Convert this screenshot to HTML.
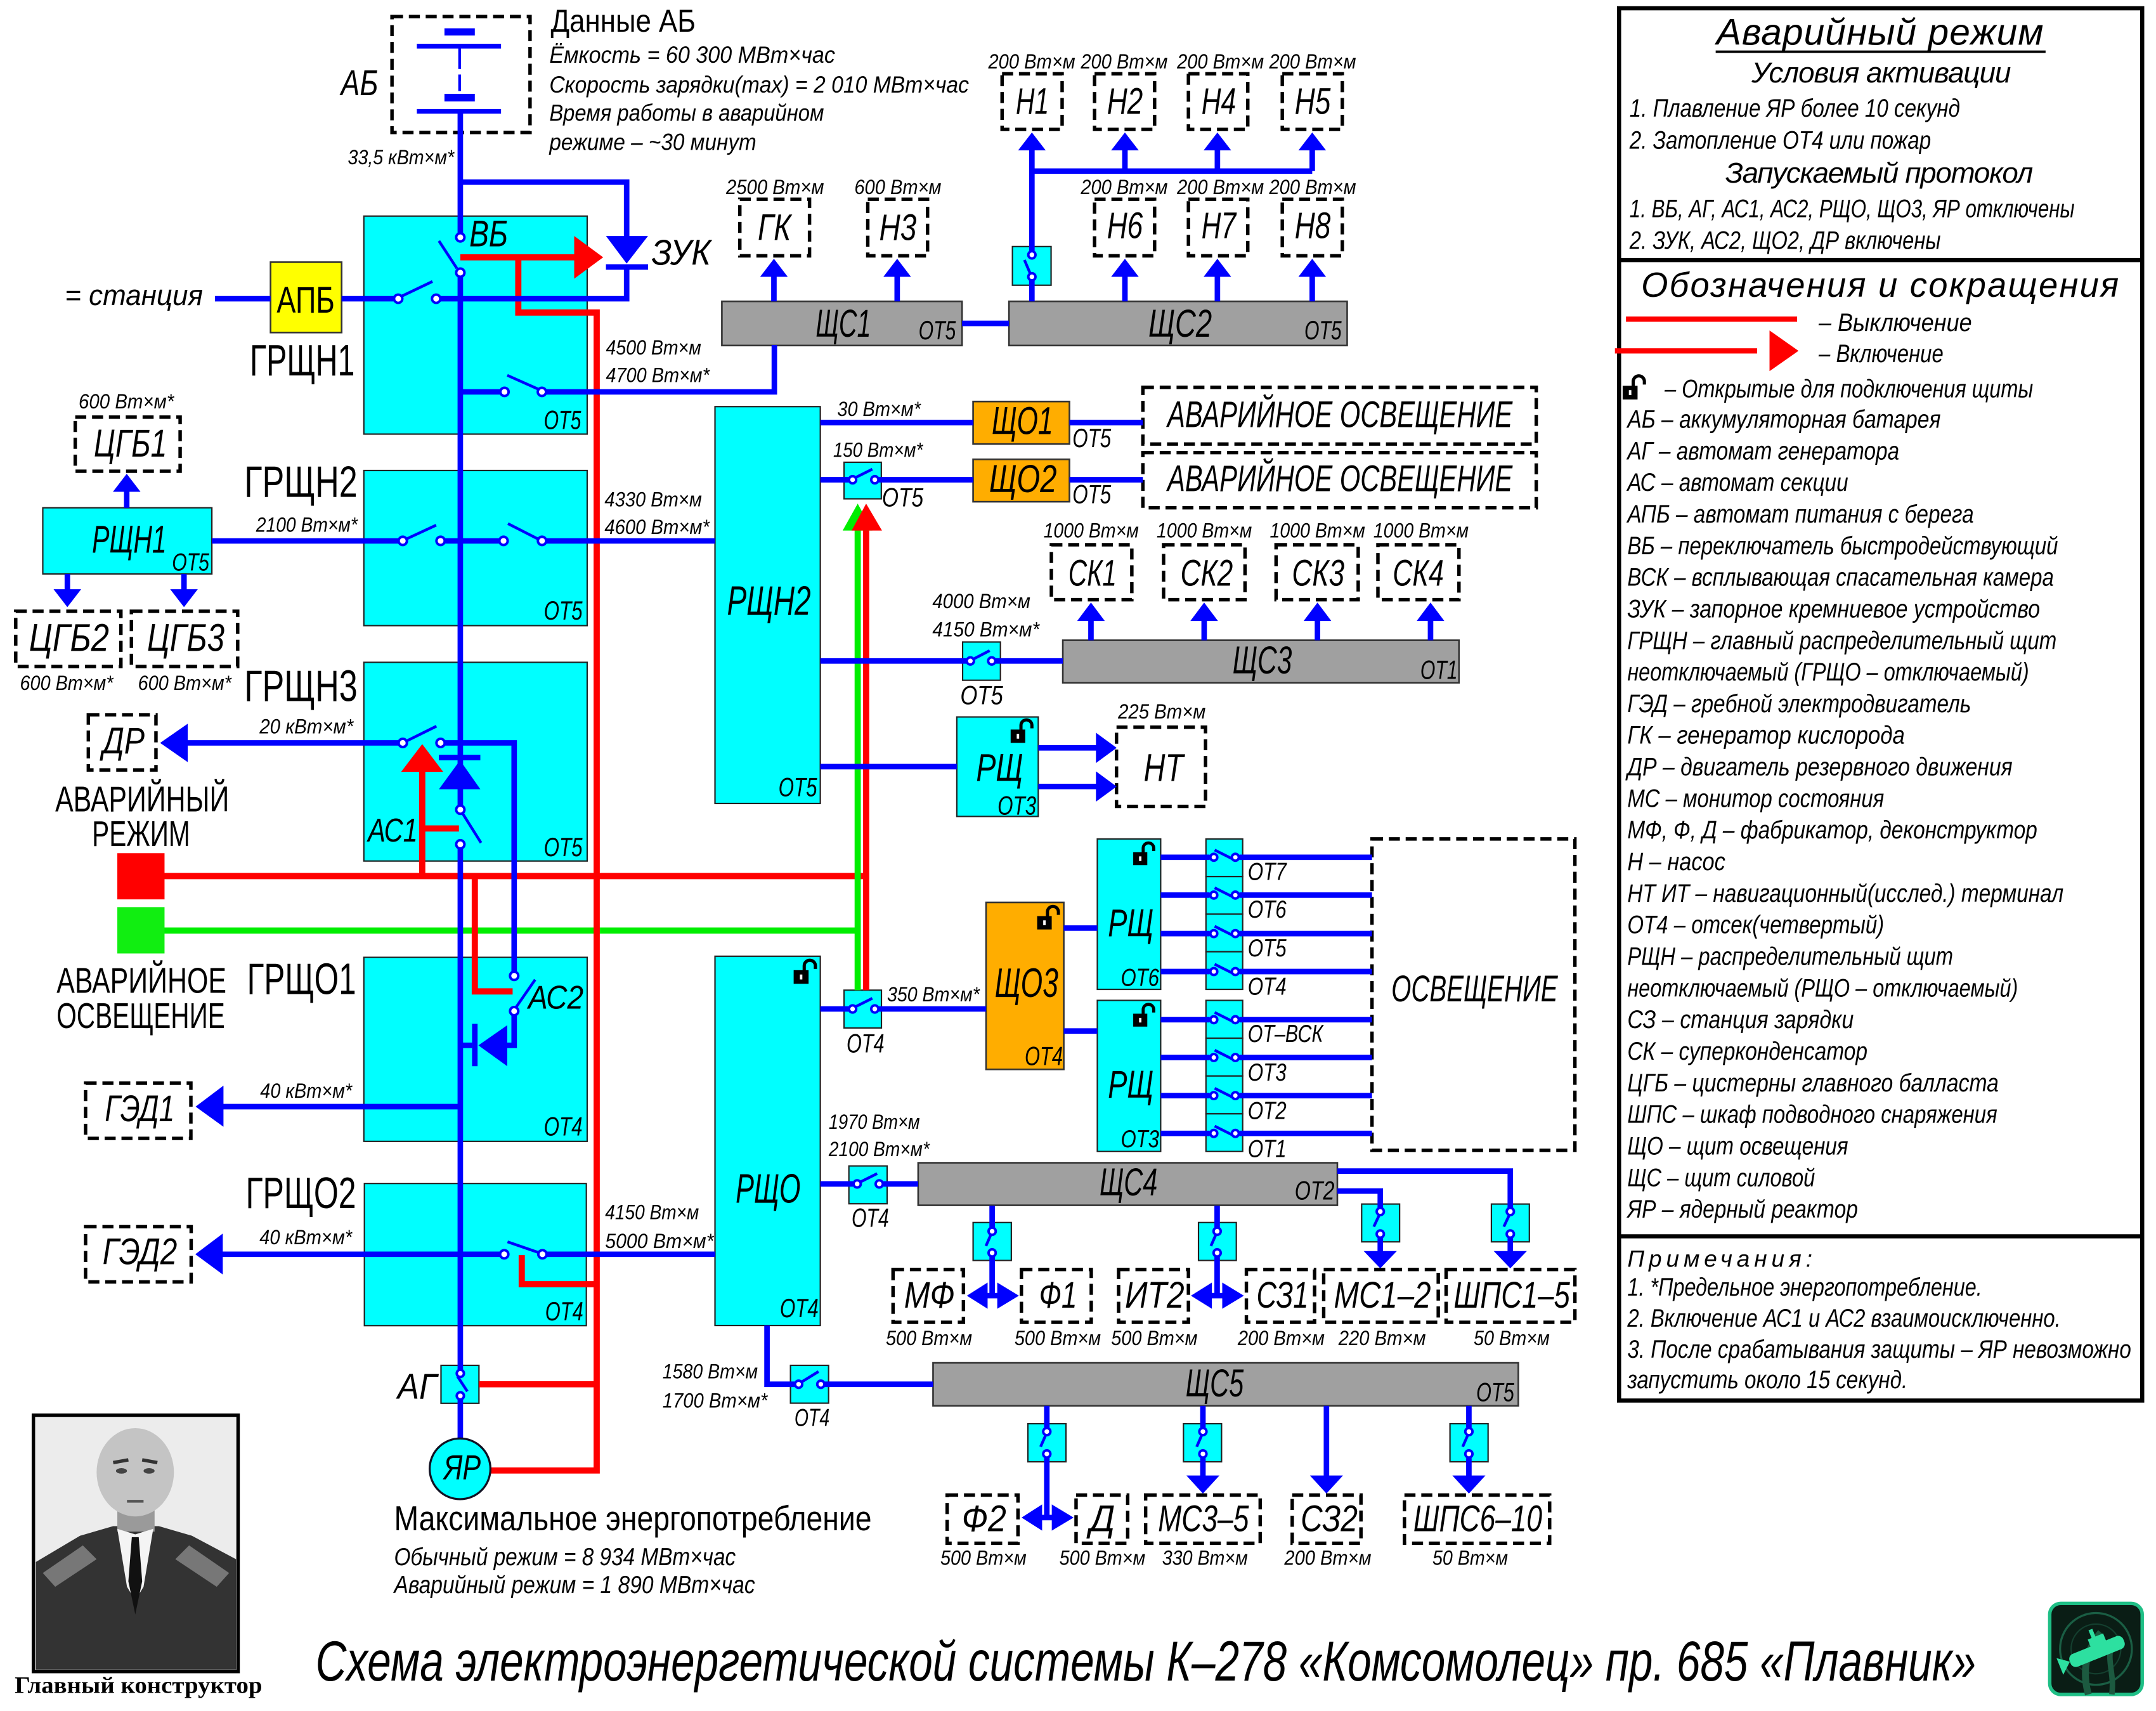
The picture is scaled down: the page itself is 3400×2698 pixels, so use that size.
<!DOCTYPE html>
<html><head><meta charset="utf-8">
<style>
html,body{margin:0;padding:0;background:#fff;}
svg{display:block}
text{font-family:"Liberation Sans Narrow","Liberation Sans","DejaVu Sans Condensed",sans-serif;fill:#000;}
.i{font-style:italic}
.s{font-family:"Liberation Serif",serif;font-weight:bold}
.d{fill:none;stroke:#000;stroke-width:2.5;stroke-dasharray:8 4.2}
.b{fill:none;stroke:#0000fe;stroke-width:4}
.r{fill:none;stroke:#ff0000;stroke-width:4.5}
.g{fill:none;stroke:#00ee00;stroke-width:4.5}
.cy{fill:#00ffff;stroke:#222;stroke-width:1}
.gr{fill:#a0a0a0;stroke:#333;stroke-width:1.2}
.or{fill:#ffad00;stroke:#333;stroke-width:1.2}
.c{fill:#fff;stroke:#0000fe;stroke-width:1.8}
.bl{stroke:#0000fe;stroke-width:2;fill:none}
.bf{fill:#0000fe}
.rf{fill:#ff0000}
</style></head><body>
<svg width="3400" height="2698" viewBox="0 0 1562 1240" preserveAspectRatio="none" xmlns="http://www.w3.org/2000/svg">
<rect x="0" y="0" width="1562" height="1240" fill="#fff"/>

<!-- ===== Boxes ===== -->
<rect class="cy" x="263.6" y="156.6" width="161.8" height="158"/>
<rect class="cy" x="263.6" y="341" width="161.8" height="112.4"/>
<rect class="cy" x="263.6" y="480" width="161.8" height="144"/>
<rect class="cy" x="263.6" y="693.8" width="161.8" height="133.4"/>
<rect class="cy" x="264" y="857.7" width="160.8" height="103"/>
<rect class="cy" x="31" y="368" width="122.5" height="48"/>
<rect class="cy" x="518" y="294.7" width="76.3" height="287.6"/>
<rect class="cy" x="518" y="693" width="76.3" height="267.6"/>
<rect class="cy" x="693.2" y="519.6" width="59" height="72.1"/>
<rect class="cy" x="795" y="608" width="45.9" height="109"/>
<rect class="cy" x="795" y="725" width="45.9" height="109.5"/>
<rect x="196" y="190" width="51.5" height="51" fill="#ffff00" stroke="#333" stroke-width="1.2"/>
<rect class="or" x="705" y="291" width="69.8" height="30.8"/>
<rect class="or" x="705" y="332.9" width="69.8" height="30.7"/>
<rect class="or" x="714.4" y="654" width="56.3" height="121"/>
<rect class="gr" x="523" y="218.4" width="174" height="32"/>
<rect class="gr" x="731" y="218.4" width="245" height="32"/>
<rect class="gr" x="770" y="464" width="287" height="30.8"/>
<rect class="gr" x="665.2" y="842.7" width="303.7" height="30.8"/>
<rect class="gr" x="676" y="987.7" width="424" height="31.1"/>

<!-- small switch boxes -->
<rect class="cy" x="733.5" y="178.7" width="28" height="28"/>
<rect class="cy" x="611.5" y="335" width="27" height="26.5"/>
<rect class="cy" x="697.4" y="465.3" width="27.4" height="27.7"/>
<rect class="cy" x="611.5" y="717.6" width="27.1" height="27.4"/>
<rect class="cy" x="615" y="845" width="27.7" height="27.4"/>
<rect class="cy" x="572.7" y="989.5" width="27.6" height="27.4"/>
<rect class="cy" x="319.5" y="989.5" width="27.5" height="27.5"/>
<rect class="cy" x="705" y="886" width="27.7" height="27.5"/>
<rect class="cy" x="868.3" y="886" width="27.4" height="27.5"/>
<rect class="cy" x="986.5" y="872.6" width="27.5" height="27.4"/>
<rect class="cy" x="1080.5" y="872.6" width="27.5" height="27.4"/>
<rect class="cy" x="744.7" y="1031.8" width="27.6" height="27.6"/>
<rect class="cy" x="857.4" y="1031.8" width="27.6" height="27.6"/>
<rect class="cy" x="1050.5" y="1031.8" width="27.6" height="27.6"/>
<!-- switch column -->
<rect class="cy" x="873.7" y="608" width="26.6" height="27.25"/>
<rect class="cy" x="873.7" y="635.25" width="26.6" height="27.25"/>
<rect class="cy" x="873.7" y="662.5" width="26.6" height="27.25"/>
<rect class="cy" x="873.7" y="689.75" width="26.6" height="27.25"/>
<rect class="cy" x="873.7" y="725" width="26.6" height="27.4"/>
<rect class="cy" x="873.7" y="752.4" width="26.6" height="27.4"/>
<rect class="cy" x="873.7" y="779.8" width="26.6" height="27.4"/>
<rect class="cy" x="873.7" y="807.2" width="26.6" height="27.3"/>

<!-- ===== Dashed boxes ===== -->
<rect class="d" x="284" y="12" width="100" height="84"/>
<rect class="d" x="536" y="144.4" width="50.5" height="41"/>
<rect class="d" x="628.7" y="144.4" width="43.3" height="41"/>
<rect class="d" x="726" y="53.5" width="43.5" height="40.3"/>
<rect class="d" x="793" y="53.5" width="43.5" height="40.3"/>
<rect class="d" x="861" y="53.5" width="43" height="40.3"/>
<rect class="d" x="929" y="53.5" width="43.5" height="40.3"/>
<rect class="d" x="793" y="144.4" width="43.5" height="41"/>
<rect class="d" x="861" y="144.4" width="43" height="41"/>
<rect class="d" x="929" y="144.4" width="43.5" height="41"/>
<rect class="d" x="54.5" y="302.3" width="76" height="39.2"/>
<rect class="d" x="11.4" y="443" width="76.2" height="40"/>
<rect class="d" x="95.2" y="443" width="77" height="40"/>
<rect class="d" x="64" y="518" width="49" height="40"/>
<rect class="d" x="62" y="785" width="76.3" height="40"/>
<rect class="d" x="62" y="889" width="76.5" height="40"/>
<rect class="d" x="828" y="280.7" width="285" height="41.1"/>
<rect class="d" x="828" y="328" width="285" height="40"/>
<rect class="d" x="761.7" y="394.8" width="58.3" height="39.8"/>
<rect class="d" x="843" y="394.8" width="59" height="39.8"/>
<rect class="d" x="924.5" y="394.8" width="59.5" height="39.8"/>
<rect class="d" x="998.3" y="394.8" width="58.7" height="39.8"/>
<rect class="d" x="808.9" y="527" width="64.5" height="57.4"/>
<rect class="d" x="994" y="608" width="147" height="225.7"/>
<rect class="d" x="647" y="920" width="51" height="38.3"/>
<rect class="d" x="740" y="920" width="50.6" height="38.3"/>
<rect class="d" x="810.4" y="920" width="50.6" height="38.3"/>
<rect class="d" x="903" y="920" width="49.4" height="38.3"/>
<rect class="d" x="959" y="920" width="83" height="38.3"/>
<rect class="d" x="1047.7" y="920" width="93.3" height="38.3"/>
<rect class="d" x="686.2" y="1083.5" width="51.3" height="34.9"/>
<rect class="d" x="779.6" y="1083.5" width="37.4" height="34.9"/>
<rect class="d" x="830" y="1083.5" width="83" height="34.9"/>
<rect class="d" x="936.2" y="1083.5" width="49.8" height="34.9"/>
<rect class="d" x="1017.5" y="1083.5" width="105.2" height="34.9"/>

<!-- battery -->
<rect class="bf" x="322" y="20.5" width="22" height="5.2"/>
<rect class="bf" x="302" y="31.7" width="61" height="3.5"/>
<line x1="333" y1="35" x2="333" y2="50" stroke="#0000fe" stroke-width="2"/>
<line x1="333" y1="54" x2="333" y2="66" stroke="#0000fe" stroke-width="2"/>
<rect class="bf" x="322" y="68" width="22" height="5.5"/>
<rect class="bf" x="302" y="79" width="61" height="3.4"/>

<!-- ===== Red & green lines ===== -->
<path class="r" d="M119 634.9H629.7"/>
<path class="g" d="M119 674.4H621.4"/>
<path class="g" d="M621.4 383V717.6"/>
<path class="r" d="M627.5 383V717.6"/>
<polygon fill="#00ee00" points="610.5,384.5 632,384.5 621.4,365"/>
<polygon class="rf" points="617,384.5 639,384.5 627.5,365"/>
<path class="r" d="M333.5 186.5H417"/>
<polygon class="rf" points="416,171 416,202 437,186.5"/>
<path class="r" d="M375.5 186.5V226.5H432.3V1065.7H354" stroke-linejoin="miter"/>
<path class="r" d="M347 1003.2H432.3"/>
<path class="r" d="M378 909.6V930.7H432.3"/>
<path class="r" d="M305.9 634.9V558"/>
<polygon class="rf" points="290.6,559.4 321.1,559.4 305.9,539.3"/>
<path class="r" d="M305.9 600.4H332.5"/>
<path class="r" d="M344 634.9V718.5H371.4"/>
<rect x="85" y="618.3" width="34.2" height="33.5" fill="#ff0000"/>
<rect x="85" y="657.4" width="34.2" height="33.6" fill="#11ee11"/>

<!-- ===== Blue lines ===== -->
<!-- main vertical -->
<path class="b" d="M333.5 82V169"/>
<path class="b" d="M333.5 200.6V584"/>
<path class="b" d="M333.5 614.9V992.3"/>
<path class="b" d="M333.5 1014.6V1042.5"/>
<path class="bl" d="M318 174.6L331 194.5"/>
<circle class="c" cx="333.5" cy="172" r="3"/>
<circle class="c" cx="333.5" cy="197.6" r="3"/>
<!-- ZUK branch -->
<path class="b" d="M333.5 132H454V172"/>
<polygon class="bf" points="439,171 469.5,171 454,191"/>
<rect class="bf" x="439" y="191.5" width="30.5" height="4"/>
<path class="b" d="M454 194V216.5H319"/>
<path class="b" d="M155.7 216.5H196"/>
<path class="b" d="M247.5 216.5H285.5"/>
<path class="bl" d="M291.5 214.4L313.3 204"/>
<circle class="c" cx="288.5" cy="216.5" r="3"/>
<circle class="c" cx="316" cy="216.5" r="3"/>
<!-- GRShN1 inner switch -->
<path class="b" d="M333.5 284H362.5"/>
<path class="bl" d="M367.5 272L390 282"/>
<circle class="c" cx="365.5" cy="284" r="3"/>
<circle class="c" cx="392.6" cy="284" r="3"/>
<path class="b" d="M395.6 284H561V250"/>
<!-- SHS1/2 -->
<path class="b" d="M697 234.4H731"/>
<path class="b" d="M560.7 218.4V200"/>
<polygon class="bf" points="550.7,200.6 570.7,200.6 560.7,187.5"/>
<path class="b" d="M650 218.4V200"/>
<polygon class="bf" points="640,200.6 660,200.6 650,187.5"/>
<!-- H pumps -->
<path class="b" d="M747.6 108V181.7"/>
<path class="b" d="M747.6 203.6V218.4"/>
<path class="bl" d="M742.2 188.4L747 199.7"/>
<circle class="c" cx="747.6" cy="184.7" r="2.6"/>
<circle class="c" cx="747.6" cy="200.6" r="2.6"/>
<path class="b" d="M747.6 124H950.7"/>
<path class="b" d="M815 124V108M882 124V108M950.7 124V108"/>
<polygon class="bf" points="737.6,109 757.6,109 747.6,96"/>
<polygon class="bf" points="805,109 825,109 815,96"/>
<polygon class="bf" points="872,109 892,109 882,96"/>
<polygon class="bf" points="940.7,109 960.7,109 950.7,96"/>
<path class="b" d="M815 218.4V200M882 218.4V200M950.7 218.4V200"/>
<polygon class="bf" points="805,200.6 825,200.6 815,187.5"/>
<polygon class="bf" points="872,200.6 892,200.6 882,187.5"/>
<polygon class="bf" points="940.7,200.6 960.7,200.6 950.7,187.5"/>

<!-- GRShN2 -->
<path class="b" d="M153.5 392H288.8"/>
<path class="b" d="M322.2 392H361.8"/>
<path class="b" d="M395.7 392H518"/>
<path class="bl" d="M294 390.8L316 380.6"/>
<path class="bl" d="M368 379.5L390.5 391"/>
<circle class="c" cx="291.8" cy="392" r="3"/>
<circle class="c" cx="319.2" cy="392" r="3"/>
<circle class="c" cx="364.8" cy="392" r="3"/>
<circle class="c" cx="392.7" cy="392" r="3"/>
<!-- RShN1 arrows -->
<path class="b" d="M91.8 368V355"/>
<polygon class="bf" points="81.8,356.4 101.8,356.4 91.8,343.4"/>
<path class="b" d="M48.8 416V428M133.3 416V428"/>
<polygon class="bf" points="38.8,427 58.8,427 48.8,440"/>
<polygon class="bf" points="123.3,427 143.3,427 133.3,440"/>

<!-- GRShN3 -->
<polygon class="bf" points="116,538.4 136,524.5 136,552.3"/>
<path class="b" d="M135 538.4H288.8"/>
<path class="bl" d="M294 537.3L316.2 526.3"/>
<circle class="c" cx="291.8" cy="538.4" r="3"/>
<circle class="c" cx="319.2" cy="538.4" r="3"/>
<path class="b" d="M322.2 538.4H372.5V704.2"/>
<rect class="bf" x="318" y="547" width="30" height="4"/>
<polygon class="bf" points="318,572 348,572 333.3,551"/>
<path class="bl" d="M334.5 588.5L348.5 610.8"/>
<circle class="c" cx="333.5" cy="586.8" r="3"/>
<circle class="c" cx="333.5" cy="611.9" r="3"/>

<!-- GRShO1 AC2 -->
<path class="bl" d="M373.5 730.5L387.7 710"/>
<circle class="c" cx="372.5" cy="707.2" r="3"/>
<circle class="c" cx="372.5" cy="732.8" r="3"/>
<path class="b" d="M372.5 735.8V757.6H366"/>
<polygon class="bf" points="367.5,743 367.5,772.7 346.6,757.6"/>
<rect class="bf" x="342" y="742" width="4" height="30.7"/>
<path class="b" d="M342 757.6H333.5"/>
<polygon class="bf" points="141.7,802 161.9,786.8 161.9,816.6"/>
<path class="b" d="M161 802H333.5"/>

<!-- GRShO2 -->
<polygon class="bf" points="141.5,909 161.4,894 161.4,923.7"/>
<path class="b" d="M160.5 909H362.3"/>
<path class="bl" d="M367.7 900L391 908"/>
<circle class="c" cx="365.3" cy="909" r="3"/>
<circle class="c" cx="393" cy="909" r="3"/>
<path class="b" d="M396 909H518.2"/>

<!-- AG -->
<path class="bl" d="M331.4 997.4L338.6 1008.4"/>
<circle class="c" cx="333.5" cy="995.3" r="2.6"/>
<circle class="c" cx="333.5" cy="1011.6" r="2.6"/>
<circle cx="333.3" cy="1064.5" r="22" fill="#00ffff" stroke="#112" stroke-width="1.5"/>

<!-- RShO -> SHS5 -->
<path class="b" d="M555.7 960.6V1003.2H575.6"/>
<path class="bl" d="M580 1002L593 994"/>
<circle class="c" cx="578.6" cy="1003.2" r="2.6"/>
<circle class="c" cx="594.7" cy="1003.2" r="2.6"/>
<path class="b" d="M597.7 1003.2H676"/>

<!-- RShN2 outputs -->
<path class="b" d="M594.3 306.2H705M774.8 306.2H828"/>
<path class="b" d="M594.3 347.7H614.7M636.8 347.7H705M774.8 347.7H828"/>
<path class="bl" d="M619 346.5L632 340"/>
<circle class="c" cx="617.7" cy="347.7" r="2.6"/>
<circle class="c" cx="633.8" cy="347.7" r="2.6"/>
<path class="b" d="M594.3 479H700M721.5 479H770"/>
<path class="bl" d="M704.5 478L717 471.5"/>
<circle class="c" cx="703" cy="479" r="2.6"/>
<circle class="c" cx="718.5" cy="479" r="2.6"/>
<path class="b" d="M790.4 464V449M872.4 464V449M954.5 464V449M1036.4 464V449"/>
<polygon class="bf" points="780.4,450 800.4,450 790.4,436.7"/>
<polygon class="bf" points="862.4,450 882.4,450 872.4,436.7"/>
<polygon class="bf" points="944.5,450 964.5,450 954.5,436.7"/>
<polygon class="bf" points="1026.4,450 1046.4,450 1036.4,436.7"/>
<path class="b" d="M594.3 555.6H693.2"/>
<path class="b" d="M752.2 542H795M752.2 570H795"/>
<polygon class="bf" points="794,531 794,553 809,542"/>
<polygon class="bf" points="794,559 794,581 809,570"/>

<!-- RShO -> SHO3 -->
<path class="b" d="M594.3 731.2H614.7M636.8 731.2H714.4"/>
<path class="bl" d="M619 730L632 723.5"/>
<circle class="c" cx="617.7" cy="731.2" r="2.6"/>
<circle class="c" cx="633.8" cy="731.2" r="2.6"/>
<path class="b" d="M770.7 672.6H795M770.7 747.2H795"/>
<!-- lighting switches -->
<path class="b" d="M840.9 621.3H876.4M898 621.3H994"/>
<path class="b" d="M840.9 648.7H876.4M898 648.7H994"/>
<path class="b" d="M840.9 676.6H876.4M898 676.6H994"/>
<path class="b" d="M840.9 704.1H876.4M898 704.1H994"/>
<path class="b" d="M840.9 739H876.4M898 739H994"/>
<path class="b" d="M840.9 766.4H876.4M898 766.4H994"/>
<path class="b" d="M840.9 794H876.4M898 794H994"/>
<path class="b" d="M840.9 821.4H876.4M898 821.4H994"/>
<g class="bl">
<path d="M880 616L893 622.5M880 643.4L893 649.9M880 671.3L893 677.8M880 698.8L893 705.3M880 733.7L893 740.2M880 761.1L893 767.6M880 788.7L893 795.2M880 816.1L893 822.6"/>
</g>
<g>
<circle class="c" cx="879.4" cy="621.3" r="2.5"/><circle class="c" cx="895" cy="621.3" r="2.5"/>
<circle class="c" cx="879.4" cy="648.7" r="2.5"/><circle class="c" cx="895" cy="648.7" r="2.5"/>
<circle class="c" cx="879.4" cy="676.6" r="2.5"/><circle class="c" cx="895" cy="676.6" r="2.5"/>
<circle class="c" cx="879.4" cy="704.1" r="2.5"/><circle class="c" cx="895" cy="704.1" r="2.5"/>
<circle class="c" cx="879.4" cy="739" r="2.5"/><circle class="c" cx="895" cy="739" r="2.5"/>
<circle class="c" cx="879.4" cy="766.4" r="2.5"/><circle class="c" cx="895" cy="766.4" r="2.5"/>
<circle class="c" cx="879.4" cy="794" r="2.5"/><circle class="c" cx="895" cy="794" r="2.5"/>
<circle class="c" cx="879.4" cy="821.4" r="2.5"/><circle class="c" cx="895" cy="821.4" r="2.5"/>
</g>

<!-- SHS4 -->
<path class="b" d="M594.3 858H618M640 858H665.2"/>
<path class="bl" d="M622.5 857L635.5 850.5"/>
<circle class="c" cx="621" cy="858" r="2.6"/>
<circle class="c" cx="637" cy="858" r="2.6"/>
<path class="b" d="M968.9 848.7H1094.2V875.3M1094.2 897.3V907"/>
<path class="b" d="M968.9 863.2H1000V875M1000 897.3V907"/>
<polygon class="bf" points="1082.2,906.7 1106.2,906.7 1094.2,919.2"/>
<polygon class="bf" points="988,906.7 1012,906.7 1000,919.2"/>
<path class="bl" d="M1089.5 889L1093.5 880.5M995.3 889L999.3 880.5"/>
<circle class="c" cx="1094.2" cy="878" r="2.6"/><circle class="c" cx="1094.2" cy="894.3" r="2.6"/>
<circle class="c" cx="1000" cy="878" r="2.6"/><circle class="c" cx="1000" cy="894.3" r="2.6"/>
<path class="b" d="M718.8 873.8V889.3M718.8 911V939M714 939H724"/>
<polygon class="bf" points="715.5,929.5 715.5,948.5 700.5,939"/>
<polygon class="bf" points="722.5,929.5 722.5,948.5 738.2,939"/>
<path class="b" d="M881.8 873.8V889.3M881.8 911V939M877 939H887"/>
<polygon class="bf" points="878,929.5 878,948.5 862.8,939"/>
<polygon class="bf" points="885.5,929.5 885.5,948.5 901.2,939"/>
<path class="bl" d="M714.3 903L718 894.5M877.3 903L881 894.5"/>
<circle class="c" cx="718.8" cy="892.3" r="2.6"/><circle class="c" cx="718.8" cy="908" r="2.6"/>
<circle class="c" cx="881.8" cy="892.3" r="2.6"/><circle class="c" cx="881.8" cy="908" r="2.6"/>

<!-- SHS5 -->
<path class="b" d="M758.4 1018.8V1034.5M758.4 1056.7V1099.8M754 1099.8H763"/>
<polygon class="bf" points="755,1090.3 755,1109.3 740.1,1099.8"/>
<polygon class="bf" points="762,1090.3 762,1109.3 777.8,1099.8"/>
<path class="b" d="M871.5 1018.8V1034.5M871.5 1056.7V1070"/>
<polygon class="bf" points="859.5,1069.3 883.5,1069.3 871.5,1082.4"/>
<path class="b" d="M961 1018.8V1070"/>
<polygon class="bf" points="949,1069.3 973,1069.3 961,1082.4"/>
<path class="b" d="M1064.2 1018.8V1034.5M1064.2 1056.7V1070"/>
<polygon class="bf" points="1052.2,1069.3 1076.2,1069.3 1064.2,1082.4"/>
<path class="bl" d="M753.9 1048.5L757.6 1040M867 1048.5L870.7 1040M1059.7 1048.5L1063.4 1040"/>
<circle class="c" cx="758.4" cy="1037.5" r="2.6"/><circle class="c" cx="758.4" cy="1053.7" r="2.6"/>
<circle class="c" cx="871.5" cy="1037.5" r="2.6"/><circle class="c" cx="871.5" cy="1053.7" r="2.6"/>
<circle class="c" cx="1064.2" cy="1037.5" r="2.6"/><circle class="c" cx="1064.2" cy="1053.7" r="2.6"/>

<!-- Locks -->
<g transform="translate(575,695) scale(0.9)"><rect x="0" y="9" width="12" height="11" fill="#000"/><path d="M8.5 9.5V5.5a4.5 4.5 0 0 1 9 0V8" fill="none" stroke="#000" stroke-width="2.6"/><rect x="5" y="12.5" width="2" height="4" fill="#fff"/></g>
<g transform="translate(732.2,520.8) scale(0.88)"><rect x="0" y="9" width="12" height="11" fill="#000"/><path d="M8.5 9.5V5.5a4.5 4.5 0 0 1 9 0V8" fill="none" stroke="#000" stroke-width="2.6"/><rect x="5" y="12.5" width="2" height="4" fill="#fff"/></g>
<g transform="translate(751.4,656) scale(0.88)"><rect x="0" y="9" width="12" height="11" fill="#000"/><path d="M8.5 9.5V5.5a4.5 4.5 0 0 1 9 0V8" fill="none" stroke="#000" stroke-width="2.6"/><rect x="5" y="12.5" width="2" height="4" fill="#fff"/></g>
<g transform="translate(821,610) scale(0.85)"><rect x="0" y="9" width="12" height="11" fill="#000"/><path d="M8.5 9.5V5.5a4.5 4.5 0 0 1 9 0V8" fill="none" stroke="#000" stroke-width="2.6"/><rect x="5" y="12.5" width="2" height="4" fill="#fff"/></g>
<g transform="translate(821,727) scale(0.85)"><rect x="0" y="9" width="12" height="11" fill="#000"/><path d="M8.5 9.5V5.5a4.5 4.5 0 0 1 9 0V8" fill="none" stroke="#000" stroke-width="2.6"/><rect x="5" y="12.5" width="2" height="4" fill="#fff"/></g>

<!-- ===== Main diagram text ===== -->
<g class="i">
<text x="247" y="69" font-size="26" textLength="27" lengthAdjust="spacingAndGlyphs">АБ</text>
<text x="398" y="45.4" font-size="17" textLength="207" lengthAdjust="spacingAndGlyphs">Ёмкость = 60 300 МВт×час</text>
<text x="398" y="67" font-size="17" textLength="304" lengthAdjust="spacingAndGlyphs">Скорость зарядки(max) = 2 010 МВт×час</text>
<text x="398" y="87.5" font-size="17" textLength="199" lengthAdjust="spacingAndGlyphs">Время работы в аварийном</text>
<text x="398" y="108.6" font-size="17" textLength="150" lengthAdjust="spacingAndGlyphs">режиме – ~30 минут</text>
<text x="252" y="119" font-size="15" textLength="77" lengthAdjust="spacingAndGlyphs">33,5 кВт×м*</text>
<text x="340" y="178.5" font-size="27" textLength="28" lengthAdjust="spacingAndGlyphs">ВБ</text>
<text x="472" y="192" font-size="26" textLength="43" lengthAdjust="spacingAndGlyphs">ЗУК</text>
<text x="47" y="221" font-size="21" textLength="100" lengthAdjust="spacingAndGlyphs">= станция</text>
<text x="439" y="257" font-size="15" textLength="69" lengthAdjust="spacingAndGlyphs">4500 Вт×м</text>
<text x="439" y="277" font-size="15" textLength="75" lengthAdjust="spacingAndGlyphs">4700 Вт×м*</text>
<text x="394" y="311" font-size="19" textLength="27" lengthAdjust="spacingAndGlyphs">ОТ5</text>
<text x="526" y="140.6" font-size="15" textLength="71" lengthAdjust="spacingAndGlyphs">2500 Вт×м</text>
<text x="619" y="140.6" font-size="15" textLength="63" lengthAdjust="spacingAndGlyphs">600 Вт×м</text>
<text x="549" y="174" font-size="27" textLength="24" lengthAdjust="spacingAndGlyphs">ГК</text>
<text x="637" y="174" font-size="27" textLength="27" lengthAdjust="spacingAndGlyphs">Н3</text>
<text x="716" y="49.7" font-size="15" textLength="63" lengthAdjust="spacingAndGlyphs">200 Вт×м</text>
<text x="783" y="49.7" font-size="15" textLength="63" lengthAdjust="spacingAndGlyphs">200 Вт×м</text>
<text x="852.7" y="49.7" font-size="15" textLength="63" lengthAdjust="spacingAndGlyphs">200 Вт×м</text>
<text x="919.5" y="49.7" font-size="15" textLength="63" lengthAdjust="spacingAndGlyphs">200 Вт×м</text>
<text x="783" y="140.6" font-size="15" textLength="63" lengthAdjust="spacingAndGlyphs">200 Вт×м</text>
<text x="852.7" y="140.6" font-size="15" textLength="63" lengthAdjust="spacingAndGlyphs">200 Вт×м</text>
<text x="919.5" y="140.6" font-size="15" textLength="63" lengthAdjust="spacingAndGlyphs">200 Вт×м</text>
<text x="736" y="82.5" font-size="27" textLength="24" lengthAdjust="spacingAndGlyphs">Н1</text>
<text x="802" y="82.5" font-size="27" textLength="26" lengthAdjust="spacingAndGlyphs">Н2</text>
<text x="870.5" y="82.5" font-size="27" textLength="25" lengthAdjust="spacingAndGlyphs">Н4</text>
<text x="938" y="82.5" font-size="27" textLength="26" lengthAdjust="spacingAndGlyphs">Н5</text>
<text x="802" y="172.5" font-size="27" textLength="26" lengthAdjust="spacingAndGlyphs">Н6</text>
<text x="870.5" y="172.5" font-size="27" textLength="25" lengthAdjust="spacingAndGlyphs">Н7</text>
<text x="938" y="172.5" font-size="27" textLength="26" lengthAdjust="spacingAndGlyphs">Н8</text>
<text x="591" y="244" font-size="28" textLength="40" lengthAdjust="spacingAndGlyphs">ЩС1</text>
<text x="665.5" y="246" font-size="19" textLength="27" lengthAdjust="spacingAndGlyphs">ОТ5</text>
<text x="832" y="244" font-size="28" textLength="46" lengthAdjust="spacingAndGlyphs">ЩС2</text>
<text x="945" y="246" font-size="19" textLength="27" lengthAdjust="spacingAndGlyphs">ОТ5</text>

<text x="57" y="296" font-size="15" textLength="69" lengthAdjust="spacingAndGlyphs">600 Вт×м*</text>
<text x="68" y="331" font-size="28" textLength="53" lengthAdjust="spacingAndGlyphs">ЦГБ1</text>
<text x="66.7" y="400.6" font-size="28" textLength="54" lengthAdjust="spacingAndGlyphs">РЩН1</text>
<text x="124.6" y="413.5" font-size="18" textLength="27" lengthAdjust="spacingAndGlyphs">ОТ5</text>
<text x="21" y="471.8" font-size="28" textLength="58" lengthAdjust="spacingAndGlyphs">ЦГБ2</text>
<text x="106.6" y="471.8" font-size="28" textLength="56" lengthAdjust="spacingAndGlyphs">ЦГБ3</text>
<text x="14.5" y="500" font-size="15" textLength="67.5" lengthAdjust="spacingAndGlyphs">600 Вт×м*</text>
<text x="100" y="500" font-size="15" textLength="67.6" lengthAdjust="spacingAndGlyphs">600 Вт×м*</text>
<text x="185.5" y="385.3" font-size="15" textLength="73.5" lengthAdjust="spacingAndGlyphs">2100 Вт×м*</text>
<text x="438" y="367" font-size="15" textLength="70.5" lengthAdjust="spacingAndGlyphs">4330 Вт×м</text>
<text x="438" y="387" font-size="15" textLength="76" lengthAdjust="spacingAndGlyphs">4600 Вт×м*</text>
<text x="394" y="449" font-size="19" textLength="28" lengthAdjust="spacingAndGlyphs">ОТ5</text>
<text x="526.7" y="445.6" font-size="30" textLength="60.7" lengthAdjust="spacingAndGlyphs">РЩН2</text>
<text x="564" y="577" font-size="19" textLength="28" lengthAdjust="spacingAndGlyphs">ОТ5</text>
<text x="188" y="531.6" font-size="15" textLength="68" lengthAdjust="spacingAndGlyphs">20 кВт×м*</text>
<text x="74.3" y="546" font-size="27" textLength="30.5" lengthAdjust="spacingAndGlyphs">ДР</text>
<text x="266.6" y="610" font-size="24" textLength="36" lengthAdjust="spacingAndGlyphs">АС1</text>
<text x="394" y="620.4" font-size="19" textLength="28" lengthAdjust="spacingAndGlyphs">ОТ5</text>
<text x="382.7" y="731" font-size="24" textLength="40" lengthAdjust="spacingAndGlyphs">АС2</text>
<text x="188.5" y="795.5" font-size="15" textLength="66.5" lengthAdjust="spacingAndGlyphs">40 кВт×м*</text>
<text x="76" y="812.6" font-size="27" textLength="50.5" lengthAdjust="spacingAndGlyphs">ГЭД1</text>
<text x="394" y="823" font-size="19" textLength="28" lengthAdjust="spacingAndGlyphs">ОТ4</text>
<text x="74.3" y="916.3" font-size="27" textLength="54" lengthAdjust="spacingAndGlyphs">ГЭД2</text>
<text x="188" y="901.8" font-size="15" textLength="67" lengthAdjust="spacingAndGlyphs">40 кВт×м*</text>
<text x="438.4" y="883.5" font-size="15" textLength="68" lengthAdjust="spacingAndGlyphs">4150 Вт×м</text>
<text x="438.4" y="904.6" font-size="15" textLength="78.6" lengthAdjust="spacingAndGlyphs">5000 Вт×м*</text>
<text x="395" y="957" font-size="19" textLength="27.6" lengthAdjust="spacingAndGlyphs">ОТ4</text>
<text x="533" y="871.7" font-size="30" textLength="47" lengthAdjust="spacingAndGlyphs">РЩО</text>
<text x="565" y="954.6" font-size="19" textLength="28" lengthAdjust="spacingAndGlyphs">ОТ4</text>
<text x="480" y="999" font-size="15" textLength="69" lengthAdjust="spacingAndGlyphs">1580 Вт×м</text>
<text x="480" y="1020" font-size="15" textLength="76" lengthAdjust="spacingAndGlyphs">1700 Вт×м*</text>
<text x="575.6" y="1033.5" font-size="18" textLength="25.4" lengthAdjust="spacingAndGlyphs">ОТ4</text>
<text x="288" y="1013.7" font-size="26" textLength="28.5" lengthAdjust="spacingAndGlyphs">АГ</text>
<text x="321.6" y="1072" font-size="25" textLength="26.7" lengthAdjust="spacingAndGlyphs">ЯР</text>
<text x="285.5" y="1134.3" font-size="18" textLength="247.5" lengthAdjust="spacingAndGlyphs">Обычный режим = 8 934 МВт×час</text>
<text x="285.5" y="1154.6" font-size="18" textLength="261.5" lengthAdjust="spacingAndGlyphs">Аварийный режим = 1 890 МВт×час</text>

<text x="606.6" y="301.4" font-size="15" textLength="60.4" lengthAdjust="spacingAndGlyphs">30 Вт×м*</text>
<text x="718.5" y="314.5" font-size="28" textLength="44.5" lengthAdjust="spacingAndGlyphs">ЩО1</text>
<text x="777" y="324" font-size="19" textLength="28" lengthAdjust="spacingAndGlyphs">ОТ5</text>
<text x="716.6" y="356.7" font-size="28" textLength="49" lengthAdjust="spacingAndGlyphs">ЩО2</text>
<text x="777" y="364.8" font-size="19" textLength="28" lengthAdjust="spacingAndGlyphs">ОТ5</text>
<text x="845.8" y="309.5" font-size="27" textLength="250" lengthAdjust="spacingAndGlyphs">АВАРИЙНОЕ ОСВЕЩЕНИЕ</text>
<text x="845.8" y="355.9" font-size="27" textLength="250" lengthAdjust="spacingAndGlyphs">АВАРИЙНОЕ ОСВЕЩЕНИЕ</text>
<text x="603.6" y="331.2" font-size="15" textLength="65" lengthAdjust="spacingAndGlyphs">150 Вт×м*</text>
<text x="639" y="367" font-size="19" textLength="30" lengthAdjust="spacingAndGlyphs">ОТ5</text>
<text x="756" y="389.6" font-size="15" textLength="69" lengthAdjust="spacingAndGlyphs">1000 Вт×м</text>
<text x="838" y="389.6" font-size="15" textLength="69" lengthAdjust="spacingAndGlyphs">1000 Вт×м</text>
<text x="920" y="389.6" font-size="15" textLength="69" lengthAdjust="spacingAndGlyphs">1000 Вт×м</text>
<text x="995" y="389.6" font-size="15" textLength="69" lengthAdjust="spacingAndGlyphs">1000 Вт×м</text>
<text x="774" y="424.4" font-size="27" textLength="35" lengthAdjust="spacingAndGlyphs">СК1</text>
<text x="855.2" y="424.4" font-size="27" textLength="38" lengthAdjust="spacingAndGlyphs">СК2</text>
<text x="936" y="424.4" font-size="27" textLength="38" lengthAdjust="spacingAndGlyphs">СК3</text>
<text x="1009" y="424.4" font-size="27" textLength="37" lengthAdjust="spacingAndGlyphs">СК4</text>
<text x="675.5" y="440.8" font-size="15" textLength="71" lengthAdjust="spacingAndGlyphs">4000 Вт×м</text>
<text x="675.5" y="461.2" font-size="15" textLength="77.5" lengthAdjust="spacingAndGlyphs">4150 Вт×м*</text>
<text x="695.7" y="510.4" font-size="19" textLength="31" lengthAdjust="spacingAndGlyphs">ОТ5</text>
<text x="893" y="488" font-size="28" textLength="43" lengthAdjust="spacingAndGlyphs">ЩС3</text>
<text x="1029" y="492" font-size="19" textLength="27" lengthAdjust="spacingAndGlyphs">ОТ1</text>
<text x="810" y="520.8" font-size="15" textLength="63.5" lengthAdjust="spacingAndGlyphs">225 Вт×м</text>
<text x="828.6" y="566" font-size="28" textLength="28.7" lengthAdjust="spacingAndGlyphs">НТ</text>
<text x="707.2" y="566" font-size="28" textLength="34" lengthAdjust="spacingAndGlyphs">РЩ</text>
<text x="722.7" y="590.4" font-size="19" textLength="28" lengthAdjust="spacingAndGlyphs">ОТ3</text>
<text x="720.7" y="722.6" font-size="30" textLength="46" lengthAdjust="spacingAndGlyphs">ЩО3</text>
<text x="742.4" y="771.8" font-size="19" textLength="27.6" lengthAdjust="spacingAndGlyphs">ОТ4</text>
<text x="642.7" y="725.8" font-size="15" textLength="67" lengthAdjust="spacingAndGlyphs">350 Вт×м*</text>
<text x="613.3" y="762.6" font-size="19" textLength="27.4" lengthAdjust="spacingAndGlyphs">ОТ4</text>
<text x="802.7" y="678.6" font-size="28" textLength="33" lengthAdjust="spacingAndGlyphs">РЩ</text>
<text x="812" y="714.4" font-size="18" textLength="27.8" lengthAdjust="spacingAndGlyphs">ОТ6</text>
<text x="802.7" y="795.6" font-size="28" textLength="33" lengthAdjust="spacingAndGlyphs">РЩ</text>
<text x="812" y="831.5" font-size="18" textLength="27.8" lengthAdjust="spacingAndGlyphs">ОТ3</text>
<text x="904" y="637.6" font-size="18" textLength="28" lengthAdjust="spacingAndGlyphs">ОТ7</text>
<text x="904" y="665" font-size="18" textLength="28" lengthAdjust="spacingAndGlyphs">ОТ6</text>
<text x="904" y="693" font-size="18" textLength="28" lengthAdjust="spacingAndGlyphs">ОТ5</text>
<text x="904" y="720.8" font-size="18" textLength="28" lengthAdjust="spacingAndGlyphs">ОТ4</text>
<text x="904" y="755.2" font-size="18" textLength="54.5" lengthAdjust="spacingAndGlyphs">ОТ–ВСК</text>
<text x="904" y="783.2" font-size="18" textLength="28" lengthAdjust="spacingAndGlyphs">ОТ3</text>
<text x="904" y="811" font-size="18" textLength="28" lengthAdjust="spacingAndGlyphs">ОТ2</text>
<text x="904" y="838.6" font-size="18" textLength="28" lengthAdjust="spacingAndGlyphs">ОТ1</text>
<text x="1008" y="725.8" font-size="27" textLength="120.6" lengthAdjust="spacingAndGlyphs">ОСВЕЩЕНИЕ</text>
<text x="600.4" y="818" font-size="15" textLength="66" lengthAdjust="spacingAndGlyphs">1970 Вт×м</text>
<text x="600.4" y="837.8" font-size="15" textLength="73" lengthAdjust="spacingAndGlyphs">2100 Вт×м*</text>
<text x="617" y="889" font-size="19" textLength="27" lengthAdjust="spacingAndGlyphs">ОТ4</text>
<text x="796.6" y="866.4" font-size="28" textLength="42" lengthAdjust="spacingAndGlyphs">ЩС4</text>
<text x="938" y="869.4" font-size="19" textLength="28.8" lengthAdjust="spacingAndGlyphs">ОТ2</text>
<text x="655" y="947.8" font-size="27" textLength="36.7" lengthAdjust="spacingAndGlyphs">МФ</text>
<text x="752.8" y="947.8" font-size="27" textLength="27.5" lengthAdjust="spacingAndGlyphs">Ф1</text>
<text x="815" y="947.8" font-size="27" textLength="43" lengthAdjust="spacingAndGlyphs">ИТ2</text>
<text x="910.3" y="947.8" font-size="27" textLength="37.7" lengthAdjust="spacingAndGlyphs">СЗ1</text>
<text x="966.4" y="947.8" font-size="27" textLength="70.3" lengthAdjust="spacingAndGlyphs">МС1–2</text>
<text x="1053.2" y="947.8" font-size="27" textLength="84.2" lengthAdjust="spacingAndGlyphs">ШПС1–5</text>
<text x="641.8" y="974.8" font-size="15" textLength="62.5" lengthAdjust="spacingAndGlyphs">500 Вт×м</text>
<text x="735" y="974.8" font-size="15" textLength="62.6" lengthAdjust="spacingAndGlyphs">500 Вт×м</text>
<text x="805" y="974.8" font-size="15" textLength="62.6" lengthAdjust="spacingAndGlyphs">500 Вт×м</text>
<text x="896.7" y="974.8" font-size="15" textLength="63" lengthAdjust="spacingAndGlyphs">200 Вт×м</text>
<text x="969.7" y="974.8" font-size="15" textLength="63.3" lengthAdjust="spacingAndGlyphs">220 Вт×м</text>
<text x="1067.7" y="974.8" font-size="15" textLength="55" lengthAdjust="spacingAndGlyphs">50 Вт×м</text>
<text x="859" y="1012" font-size="28" textLength="42" lengthAdjust="spacingAndGlyphs">ЩС5</text>
<text x="1069.5" y="1015.6" font-size="19" textLength="27.5" lengthAdjust="spacingAndGlyphs">ОТ5</text>
<text x="696.8" y="1109.8" font-size="27" textLength="32.2" lengthAdjust="spacingAndGlyphs">Ф2</text>
<text x="789.5" y="1109.8" font-size="27" textLength="18.3" lengthAdjust="spacingAndGlyphs">Д</text>
<text x="839" y="1109.8" font-size="27" textLength="65.8" lengthAdjust="spacingAndGlyphs">МС3–5</text>
<text x="942.3" y="1109.8" font-size="27" textLength="41.3" lengthAdjust="spacingAndGlyphs">СЗ2</text>
<text x="1024" y="1109.8" font-size="27" textLength="93.3" lengthAdjust="spacingAndGlyphs">ШПС6–10</text>
<text x="681.3" y="1134" font-size="15" textLength="62.4" lengthAdjust="spacingAndGlyphs">500 Вт×м</text>
<text x="767.5" y="1134" font-size="15" textLength="62.3" lengthAdjust="spacingAndGlyphs">500 Вт×м</text>
<text x="842" y="1134" font-size="15" textLength="62" lengthAdjust="spacingAndGlyphs">330 Вт×м</text>
<text x="930.5" y="1134" font-size="15" textLength="63" lengthAdjust="spacingAndGlyphs">200 Вт×м</text>
<text x="1037.8" y="1134" font-size="15" textLength="54.7" lengthAdjust="spacingAndGlyphs">50 Вт×м</text>

<text x="228.6" y="1218" font-size="41" textLength="1203" lengthAdjust="spacingAndGlyphs">Схема электроэнергетической системы К–278 «Комсомолец» пр. 685 «Плавник»</text>
</g>

<!-- upright texts -->
<text x="399" y="23" font-size="23" textLength="105" lengthAdjust="spacingAndGlyphs">Данные АБ</text>
<text x="200.5" y="226.5" font-size="27" textLength="42" lengthAdjust="spacingAndGlyphs">АПБ</text>
<text x="181" y="272" font-size="32" textLength="76" lengthAdjust="spacingAndGlyphs">ГРЩН1</text>
<text x="177" y="360" font-size="32" textLength="82" lengthAdjust="spacingAndGlyphs">ГРЩН2</text>
<text x="177" y="508" font-size="32" textLength="82" lengthAdjust="spacingAndGlyphs">ГРЩН3</text>
<text x="179" y="720.5" font-size="32" textLength="79" lengthAdjust="spacingAndGlyphs">ГРЩО1</text>
<text x="178" y="875.6" font-size="32" textLength="80" lengthAdjust="spacingAndGlyphs">ГРЩО2</text>
<text x="40" y="588" font-size="26" textLength="126" lengthAdjust="spacingAndGlyphs">АВАРИЙНЫЙ</text>
<text x="66.7" y="613" font-size="26" textLength="71" lengthAdjust="spacingAndGlyphs">РЕЖИМ</text>
<text x="41" y="719.4" font-size="26" textLength="123" lengthAdjust="spacingAndGlyphs">АВАРИЙНОЕ</text>
<text x="41" y="745" font-size="26" textLength="122" lengthAdjust="spacingAndGlyphs">ОСВЕЩЕНИЕ</text>
<text x="285.5" y="1109" font-size="25" textLength="346" lengthAdjust="spacingAndGlyphs">Максимальное энергопотребление</text>

<!-- ===== Photo ===== -->
<rect x="24.2" y="1025.6" width="148.3" height="185.8" fill="#ececec" stroke="#000" stroke-width="2.5"/>
<path d="M26 1132 L58 1113 L82 1106 L115 1106 L139 1113 L171 1130 L171 1210 L26 1210 Z" fill="#333"/>
<path d="M31 1140 L60 1120 L70 1130 L40 1150 Z" fill="#777"/>
<path d="M166 1140 L137 1120 L127 1130 L157 1150 Z" fill="#777"/>
<rect x="85" y="1088" width="27" height="22" fill="#9a9a9a"/>
<ellipse cx="98" cy="1067" rx="28" ry="32" fill="#c4c4c4"/>
<path d="M85 1108 L98 1112 L111 1108 L104 1150 L98 1160 L92 1150 Z" fill="#f4f4f4"/>
<path d="M95.5 1114 L100.5 1114 L103 1146 L98 1170 L93 1146 Z" fill="#111"/>
<path d="M82 1060 L93 1058 M103 1058 L114 1060" stroke="#333" stroke-width="2.5"/>
<ellipse cx="88" cy="1066" rx="4" ry="2" fill="#444"/>
<ellipse cx="108" cy="1066" rx="4" ry="2" fill="#444"/>
<path d="M92 1088 L104 1088" stroke="#555" stroke-width="2"/>
<text x="10.6" y="1226.8" font-size="17" class="s" textLength="179.4" lengthAdjust="spacingAndGlyphs">Главный конструктор</text>

<!-- ===== Logo ===== -->
<rect x="1485" y="1162" width="67" height="66" rx="8" fill="#0a1d15" stroke="#1fbf86" stroke-width="2.5"/>
<circle cx="1518.5" cy="1195" r="26" fill="none" stroke="#1a5e44" stroke-width="1.5"/>
<circle cx="1518.5" cy="1195" r="18" fill="none" stroke="#143f2f" stroke-width="1"/>
<path d="M1513 1228 C1508 1210 1512 1195 1522 1183" stroke="#1c5a40" stroke-width="5" fill="none"/>
<path d="M1530 1228 C1532 1212 1526 1205 1530 1190" stroke="#1c5a40" stroke-width="4" fill="none"/>
<g transform="translate(1520,1196) rotate(-22)">
<rect x="-22" y="-4.5" width="42" height="10" rx="4" fill="#2de0a0"/>
<rect x="-4" y="-10" width="12" height="6" fill="#2de0a0"/>
<rect x="-1" y="-16" width="3" height="7" fill="#2de0a0"/>
<path d="M-22 0 L-30 -6 L-30 7 Z" fill="#2de0a0"/>
</g>

<!-- ===== Legend ===== -->
<rect x="1173" y="6" width="379" height="1009" fill="none" stroke="#000" stroke-width="3"/>
<line x1="1173" y1="188.5" x2="1552" y2="188.5" stroke="#000" stroke-width="3"/>
<line x1="1173" y1="896" x2="1552" y2="896" stroke="#000" stroke-width="3"/>
<g class="i">
<text x="1243.5" y="32.4" font-size="27" textLength="237" lengthAdjust="spacing">Аварийный режим</text>
<line x1="1243" y1="37.5" x2="1482" y2="37.5" stroke="#000" stroke-width="1.8"/>
<text x="1269" y="59.8" font-size="21" textLength="188" lengthAdjust="spacing">Условия активации</text>
<text x="1180.6" y="84.5" font-size="18.5" textLength="239.4" lengthAdjust="spacingAndGlyphs">1. Плавление ЯР более 10 секунд</text>
<text x="1180.6" y="107.7" font-size="18.5" textLength="218.4" lengthAdjust="spacingAndGlyphs">2. Затопление ОТ4 или пожар</text>
<text x="1250" y="132.3" font-size="21" textLength="223" lengthAdjust="spacing">Запускаемый протокол</text>
<text x="1180.6" y="157.5" font-size="18.5" textLength="322.4" lengthAdjust="spacingAndGlyphs">1. ВБ, АГ, АС1, АС2, РЩО, ЩО3, ЯР отключены</text>
<text x="1180.6" y="180.5" font-size="18.5" textLength="225.4" lengthAdjust="spacingAndGlyphs">2. ЗУК, АС2, ЩО2, ДР включены</text>
<text x="1189" y="215" font-size="25" textLength="346" lengthAdjust="spacing">Обозначения и сокращения</text>
<text x="1317.6" y="240" font-size="18.5" textLength="111" lengthAdjust="spacingAndGlyphs">– Выключение</text>
<text x="1317.6" y="262.5" font-size="18.5" textLength="90.4" lengthAdjust="spacingAndGlyphs">– Включение</text>
<text x="1206" y="288" font-size="18.5" textLength="267" lengthAdjust="spacingAndGlyphs">– Открытые для подключения щиты</text>
<text x="1179" y="310" font-size="18.5" textLength="227" lengthAdjust="spacingAndGlyphs">АБ – аккумуляторная батарея</text>
<text x="1179" y="332.9" font-size="18.5" textLength="197" lengthAdjust="spacingAndGlyphs">АГ – автомат генератора</text>
<text x="1179" y="355.8" font-size="18.5" textLength="160" lengthAdjust="spacingAndGlyphs">АС – автомат секции</text>
<text x="1179" y="378.7" font-size="18.5" textLength="251" lengthAdjust="spacingAndGlyphs">АПБ – автомат питания с берега</text>
<text x="1179" y="401.6" font-size="18.5" textLength="312" lengthAdjust="spacingAndGlyphs">ВБ – переключатель быстродействующий</text>
<text x="1179" y="424.5" font-size="18.5" textLength="309" lengthAdjust="spacingAndGlyphs">ВСК – всплывающая спасательная камера</text>
<text x="1179" y="447.4" font-size="18.5" textLength="299" lengthAdjust="spacingAndGlyphs">ЗУК – запорное кремниевое устройство</text>
<text x="1179" y="470.3" font-size="18.5" textLength="311" lengthAdjust="spacingAndGlyphs">ГРЩН – главный распределительный щит</text>
<text x="1179" y="493.2" font-size="18.5" textLength="291" lengthAdjust="spacingAndGlyphs">неотключаемый (ГРЩО – отключаемый)</text>
<text x="1179" y="516.1" font-size="18.5" textLength="249" lengthAdjust="spacingAndGlyphs">ГЭД – гребной электродвигатель</text>
<text x="1179" y="539" font-size="18.5" textLength="201" lengthAdjust="spacingAndGlyphs">ГК –  генератор кислорода</text>
<text x="1179" y="561.9" font-size="18.5" textLength="279" lengthAdjust="spacingAndGlyphs">ДР – двигатель резервного движения</text>
<text x="1179" y="584.8" font-size="18.5" textLength="186" lengthAdjust="spacingAndGlyphs">МС – монитор состояния</text>
<text x="1179" y="607.7" font-size="18.5" textLength="297" lengthAdjust="spacingAndGlyphs">МФ, Ф, Д – фабрикатор, деконструктор</text>
<text x="1179" y="630.6" font-size="18.5" textLength="71" lengthAdjust="spacingAndGlyphs">Н – насос</text>
<text x="1179" y="653.5" font-size="18.5" textLength="316" lengthAdjust="spacingAndGlyphs">НТ ИТ – навигационный(исслед.) терминал</text>
<text x="1179" y="676.4" font-size="18.5" textLength="186" lengthAdjust="spacingAndGlyphs">ОТ4 – отсек(четвертый)</text>
<text x="1179" y="699.3" font-size="18.5" textLength="236" lengthAdjust="spacingAndGlyphs">РЩН – распределительный щит</text>
<text x="1179" y="722.2" font-size="18.5" textLength="283" lengthAdjust="spacingAndGlyphs">неотключаемый (РЩО – отключаемый)</text>
<text x="1179" y="745.1" font-size="18.5" textLength="164" lengthAdjust="spacingAndGlyphs">СЗ – станция зарядки</text>
<text x="1179" y="768" font-size="18.5" textLength="174" lengthAdjust="spacingAndGlyphs">СК – суперконденсатор</text>
<text x="1179" y="790.9" font-size="18.5" textLength="269" lengthAdjust="spacingAndGlyphs">ЦГБ – цистерны главного балласта</text>
<text x="1179" y="813.8" font-size="18.5" textLength="268" lengthAdjust="spacingAndGlyphs">ШПС – шкаф подводного снаряжения</text>
<text x="1179" y="836.7" font-size="18.5" textLength="160" lengthAdjust="spacingAndGlyphs">ЩО – щит освещения</text>
<text x="1179" y="859.6" font-size="18.5" textLength="136" lengthAdjust="spacingAndGlyphs">ЩС – щит силовой</text>
<text x="1179" y="882.5" font-size="18.5" textLength="167" lengthAdjust="spacingAndGlyphs">ЯР – ядерный реактор</text>
<text x="1179" y="918" font-size="17" textLength="134" lengthAdjust="spacing">Примечания:</text>
<text x="1179" y="939" font-size="18.5" textLength="257" lengthAdjust="spacingAndGlyphs">1. *Предельное энергопотребление.</text>
<text x="1179" y="961.5" font-size="18.5" textLength="314" lengthAdjust="spacingAndGlyphs">2. Включение АС1 и АС2 взаимоисключенно.</text>
<text x="1179" y="984" font-size="18.5" textLength="365" lengthAdjust="spacingAndGlyphs">3. После срабатывания защиты – ЯР невозможно</text>
<text x="1179" y="1006" font-size="18.5" textLength="203" lengthAdjust="spacingAndGlyphs">запустить около 15 секунд.</text>
</g>
<rect x="1178" y="229.4" width="124" height="3.8" fill="#ff0000"/>
<rect x="1170" y="252.4" width="103" height="3.8" fill="#ff0000"/>
<polygon class="rf" points="1282,239.5 1282,269 1303,254.3"/>
<g transform="translate(1175.6,271.5) scale(0.9)"><rect x="0" y="9" width="12" height="11" fill="#000"/><path d="M8.5 9.5V5.5a4.5 4.5 0 0 1 9 0V8" fill="none" stroke="#000" stroke-width="2.6"/><rect x="5" y="12.5" width="2" height="4" fill="#fff"/></g>
</svg>
</body></html>
